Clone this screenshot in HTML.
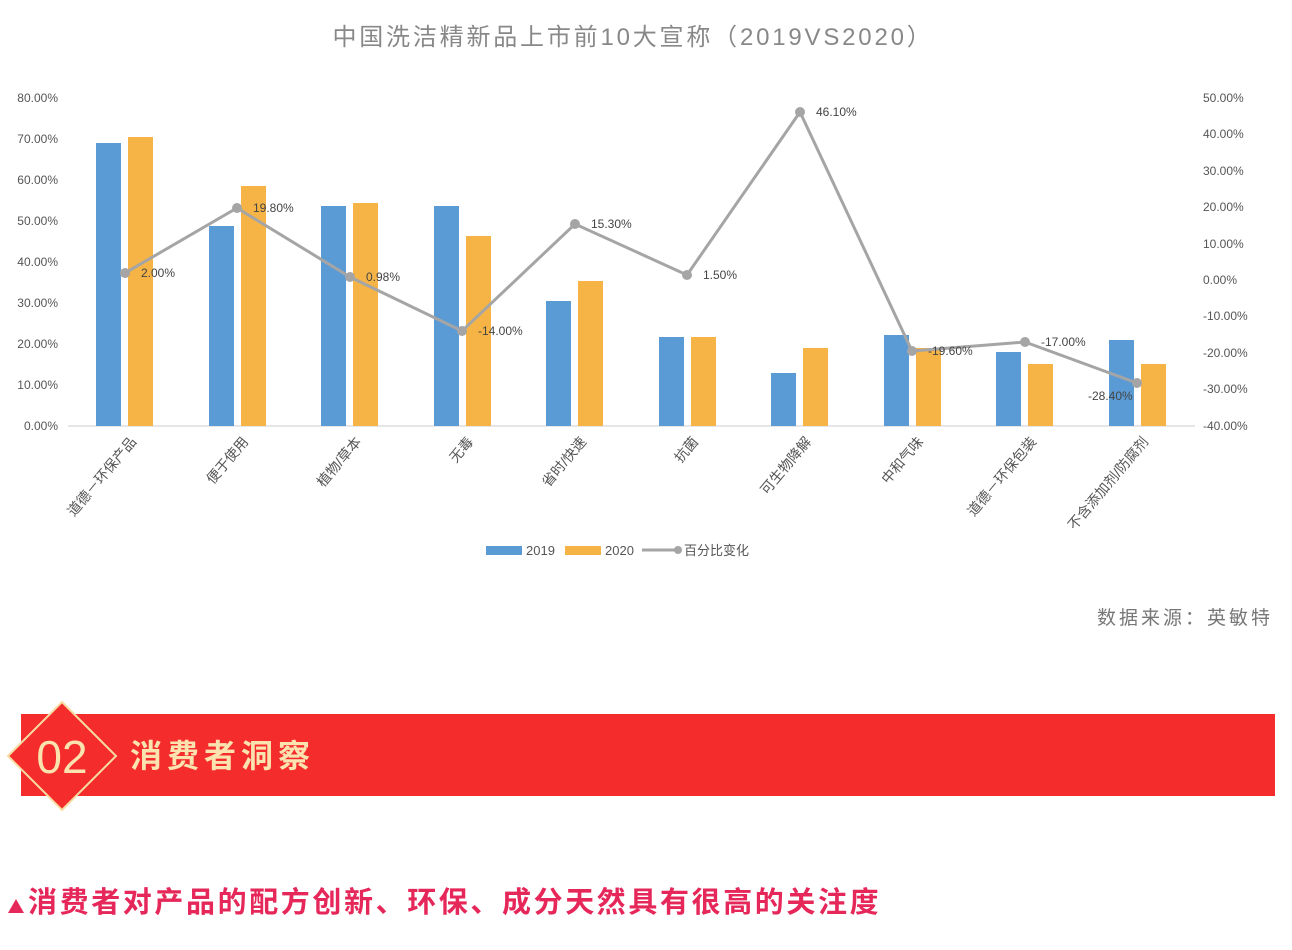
<!DOCTYPE html><html><head><meta charset="utf-8"><style>body{margin:0;background:#fff;}svg{display:block}</style></head><body>
<svg width="1292" height="950" xmlns="http://www.w3.org/2000/svg" font-family="Liberation Sans, Noto Sans CJK SC, sans-serif">
<text x="633" y="45" font-size="24" fill="#888" text-anchor="middle" letter-spacing="2.8">中国洗洁精新品上市前10大宣称（2019VS2020）</text>
<g font-size="12" fill="#555">
<g text-anchor="end">
<text x="58" y="102">80.00%</text><text x="58" y="143">70.00%</text><text x="58" y="184">60.00%</text><text x="58" y="225">50.00%</text><text x="58" y="266">40.00%</text><text x="58" y="307">30.00%</text><text x="58" y="348">20.00%</text><text x="58" y="389">10.00%</text><text x="58" y="430">0.00%</text>
</g>
<g>
<text x="1203" y="102">50.00%</text><text x="1203" y="138">40.00%</text><text x="1203" y="175">30.00%</text><text x="1203" y="211">20.00%</text><text x="1203" y="248">10.00%</text><text x="1203" y="284">0.00%</text><text x="1203" y="320">-10.00%</text><text x="1203" y="357">-20.00%</text><text x="1203" y="393">-30.00%</text><text x="1203" y="430">-40.00%</text>
</g></g>
<line x1="68" y1="426" x2="1195" y2="426" stroke="#ccc"/>
<g fill="#5b9bd5">
<rect x="96" y="143" width="25" height="283"/><rect x="209" y="226" width="25" height="200"/><rect x="321" y="206" width="25" height="220"/><rect x="434" y="206" width="25" height="220"/><rect x="546" y="301" width="25" height="125"/><rect x="659" y="337" width="25" height="89"/><rect x="771" y="373" width="25" height="53"/><rect x="884" y="335" width="25" height="91"/><rect x="996" y="352" width="25" height="74"/><rect x="1109" y="340" width="25" height="86"/>
</g>
<g fill="#f5b445">
<rect x="128" y="137" width="25" height="289"/><rect x="241" y="186" width="25" height="240"/><rect x="353" y="203" width="25" height="223"/><rect x="466" y="236" width="25" height="190"/><rect x="578" y="281" width="25" height="145"/><rect x="691" y="337" width="25" height="89"/><rect x="803" y="348" width="25" height="78"/><rect x="916" y="348" width="25" height="78"/><rect x="1028" y="364" width="25" height="62"/><rect x="1141" y="364" width="25" height="62"/>
</g>
<polyline fill="none" stroke="#a5a5a5" stroke-width="3" points="125,273 237,208 350,277 462,331 575,224 687,275 800,112 912,351 1025,342 1137,383"/>
<g fill="#a5a5a5"><circle cx="125" cy="273" r="5"/><circle cx="237" cy="208" r="5"/><circle cx="350" cy="277" r="5"/><circle cx="462" cy="331" r="5"/><circle cx="575" cy="224" r="5"/><circle cx="687" cy="275" r="5"/><circle cx="800" cy="112" r="5"/><circle cx="912" cy="351" r="5"/><circle cx="1025" cy="342" r="5"/><circle cx="1137" cy="383" r="5"/></g>
<g font-size="12" fill="#444">
<text x="141" y="277">2.00%</text><text x="253" y="212">19.80%</text><text x="366" y="281">0.98%</text><text x="478" y="335">-14.00%</text><text x="591" y="228">15.30%</text><text x="703" y="279">1.50%</text><text x="816" y="116">46.10%</text><text x="928" y="355">-19.60%</text><text x="1041" y="346">-17.00%</text><text x="1088" y="400">-28.40%</text>
</g>
<g font-size="14" fill="#555" text-anchor="end">
<text transform="translate(137,442) rotate(-50)">道德－环保产品</text>
<text transform="translate(249,442) rotate(-50)">便于使用</text>
<text transform="translate(362,442) rotate(-50)">植物/草本</text>
<text transform="translate(474,442) rotate(-50)">无毒</text>
<text transform="translate(587,442) rotate(-50)">省时/快速</text>
<text transform="translate(699,442) rotate(-50)">抗菌</text>
<text transform="translate(812,442) rotate(-50)">可生物降解</text>
<text transform="translate(924,442) rotate(-50)">中和气味</text>
<text transform="translate(1037,442) rotate(-50)">道德－环保包装</text>
<text transform="translate(1149,442) rotate(-50)">不含添加剂/防腐剂</text>
</g>
<rect x="486" y="546" width="36" height="9" fill="#5b9bd5"/><text x="526" y="555" font-size="13" fill="#555">2019</text>
<rect x="565" y="546" width="36" height="9" fill="#f5b445"/><text x="605" y="555" font-size="13" fill="#555">2020</text>
<line x1="642" y1="550" x2="680" y2="550" stroke="#a5a5a5" stroke-width="3"/><circle cx="678" cy="550" r="4" fill="#a5a5a5"/><text x="684" y="555" font-size="13" fill="#555">百分比变化</text>
<text x="1273" y="624" font-size="19" fill="#777" text-anchor="end" letter-spacing="3">数据来源：英敏特</text>
<rect x="21" y="714" width="1254" height="82" fill="#f52c2c"/>
<polygon points="62,702 116,756 62,810 8,756" fill="#f52c2c" stroke="#f6dca0" stroke-width="2"/>
<text x="62" y="773" font-size="46" fill="#fbe3b0" text-anchor="middle">02</text>
<text x="130" y="767" font-size="32" font-weight="bold" fill="#fbe3b0" letter-spacing="5">消费者洞察</text>
<polygon points="8,913 16,899 24,913" fill="#e6275a"/>
<text x="28" y="912" font-size="29" font-weight="bold" fill="#e6275a" letter-spacing="2.6">消费者对产品的配方创新、环保、成分天然具有很高的关注度</text>
</svg>
</body></html>
